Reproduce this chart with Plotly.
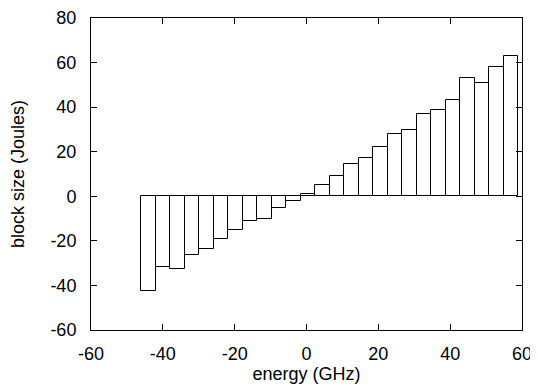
import plotly.graph_objects as go

energy = [-44.0, -40.0, -35.9, -31.9, -27.8, -23.8, -19.8, -15.7, -11.7, -7.6, -3.6, 0.4,
          4.5, 8.5, 12.5, 16.6, 20.6, 24.7, 28.7, 32.7, 36.8, 40.8, 44.8, 48.9, 52.9, 57.0]
block_size = [-42.3, -31.7, -32.6, -26.4, -23.7, -19.2, -15.0, -11.3, -10.0, -5.2, -1.9, 1.1,
              5.0, 9.2, 14.5, 17.4, 21.9, 27.9, 29.6, 37.1, 38.5, 43.2, 53.1, 50.8, 58.0, 62.8]
bar_width = 4.04

x_ticks = [-60, -40, -20, 0, 20, 40, 60]
y_ticks = [-60, -40, -20, 0, 20, 40, 60, 80]

font = dict(family="Liberation Sans, Arial, sans-serif", size=18, color="black")

fig = go.Figure(go.Bar(
    x=energy, y=block_size, width=bar_width,
    marker=dict(color="white", line=dict(color="black", width=1)),
    showlegend=False,
))

axis_common = dict(
    showline=True, linecolor="black", linewidth=1, mirror="ticks",
    ticks="inside", ticklen=6, tickcolor="black", tickwidth=1,
    showgrid=False, zeroline=False, tickfont=font,
)

fig.update_xaxes(range=[-60, 60], tickvals=x_ticks, ticktext=[str(v) for v in x_ticks],
                 title=dict(text="energy (GHz)", font=font, standoff=2),
                 ticklabelstandoff=7, **axis_common)
fig.update_yaxes(range=[-60, 80], tickvals=y_ticks, ticktext=[str(v) for v in y_ticks],
                 title=dict(text="block size (Joules)", font=font, standoff=22),
                 ticklabelstandoff=10, **axis_common)

# The page body adds an 8px offset; margins compensate so the plot box lands
# at the same place as in the reference.
fig.update_layout(
    width=538, height=392,
    margin=dict(l=83, r=24, t=10, b=70, autoexpand=False),
    plot_bgcolor="white", paper_bgcolor="white",
    font=font, bargap=0,
)

fig.write_html("out.html")
